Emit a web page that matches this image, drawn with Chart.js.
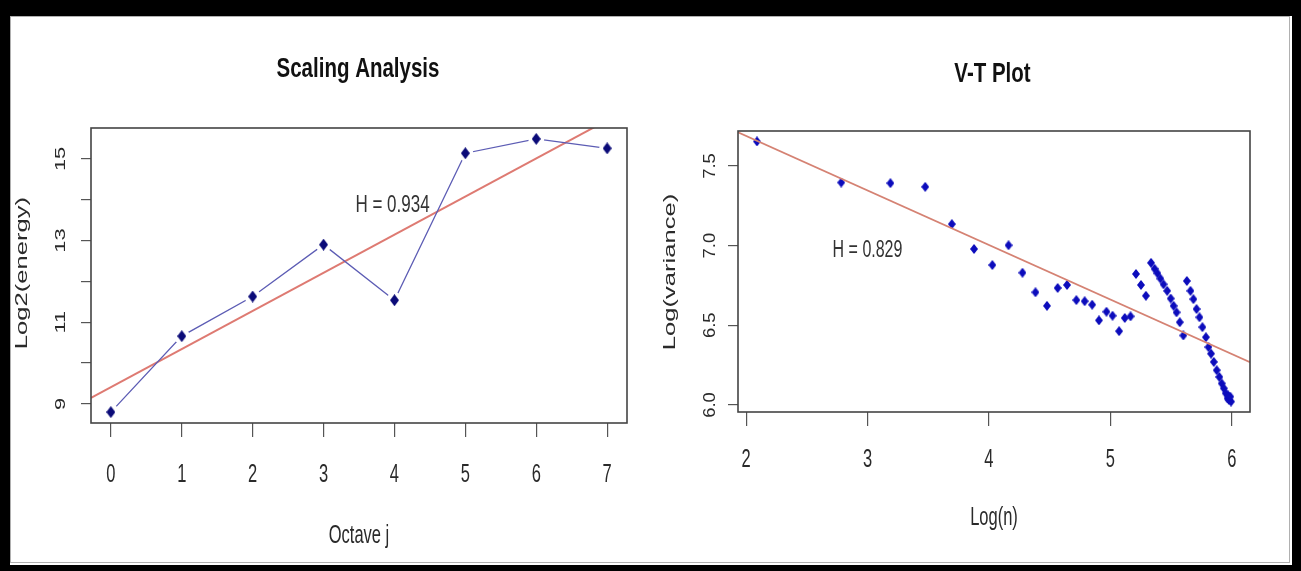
<!DOCTYPE html>
<html><head><meta charset="utf-8">
<script src="https://cdn.jsdelivr.net/npm/chart.js@4.4.0/dist/chart.umd.min.js"></script>
<style>
html,body{margin:0;padding:0;background:#fff;overflow:hidden;}
#frame{position:absolute;left:0;top:0;width:1301px;height:571px;box-sizing:border-box;border-style:solid;border-color:#000;border-width:16px 9px 6px 10px;background:#fff;}
#inner{position:absolute;left:10px;top:16px;width:1280px;height:547px;box-sizing:border-box;border:1px solid #b0b0b0;}
canvas{position:absolute;top:0;}
</style></head><body>
<div id="frame"></div>
<div id="inner"></div>
<canvas id="left" width="650" height="571" style="left:0px"></canvas>
<canvas id="right" width="651" height="571" style="left:650px"></canvas>
<script>
// ---------- data ----------
const octaves = [0, 1, 2, 3, 4, 5, 6, 7];
const log2Energy = [8.80, 10.66, 11.63, 12.90, 11.54, 15.14, 15.49, 15.26];

const logN = [2.089, 2.783, 3.188, 3.475, 3.694, 3.877, 4.028, 4.161, 4.276, 4.383,
  4.478, 4.566, 4.643, 4.720, 4.788, 4.850, 4.906, 4.968, 5.018, 5.072,
  5.119, 5.166, 5.211, 5.252, 5.293,
  5.335, 5.364, 5.388, 5.412, 5.438, 5.468, 5.497, 5.521, 5.545, 5.572, 5.601,
  5.630, 5.660, 5.684, 5.710, 5.734, 5.758, 5.787, 5.808, 5.829, 5.852,
  5.876, 5.897, 5.917, 5.935, 5.950, 5.965, 5.976, 5.994, 5.970, 5.988];
const logVariance = [7.654, 7.396, 7.392, 7.369, 7.135, 6.979, 6.878, 7.002, 6.830, 6.707,
  6.622, 6.734, 6.753, 6.658, 6.651, 6.629, 6.531, 6.585, 6.560, 6.463,
  6.546, 6.556, 6.822, 6.753, 6.685,
  6.892, 6.855, 6.826, 6.793, 6.757, 6.716, 6.668, 6.622, 6.581, 6.519, 6.436,
  6.778, 6.716, 6.664, 6.602, 6.550, 6.488, 6.425, 6.363, 6.322, 6.270,
  6.218, 6.176, 6.135, 6.104, 6.073, 6.041, 6.031, 6.021, 6.060, 6.052];

const hurst = [0.934, 0.829];
const hLabels = ['H = 0.934', 'H = 0.829'];
const titles = ['Scaling Analysis', 'V-T Plot'];
const xTitles = ['Octave j', 'Log(n)'];
const yTitles = ['Log2(energy)', 'Log(variance)'];

const leftXTicks = [0, 1, 2, 3, 4, 5, 6, 7];
const leftXTickLabels = ['0', '1', '2', '3', '4', '5', '6', '7'];
const leftYTicks = [9, 10, 11, 12, 13, 14, 15];
const leftYTickLabels = ['9', '', '11', '', '13', '', '15'];
const rightXTicks = [2, 3, 4, 5, 6];
const rightXTickLabels = ['2', '3', '4', '5', '6'];
const rightYTicks = [6.0, 6.5, 7.0, 7.5];
const rightYTickLabels = ['6.0', '6.5', '7.0', '7.5'];

// ---------- helpers ----------
const FONT = "'Liberation Sans', Arial, Helvetica, sans-serif";
const mean = a => a.reduce((s, v) => s + v, 0) / a.length;
function rlim(a) { const mn = Math.min(...a), mx = Math.max(...a), r = mx - mn; return [mn - 0.04 * r, mx + 0.04 * r]; }
function fitLine(xs, ys, slope, lim) {
  const b = mean(ys) - slope * mean(xs);
  return [{x: lim[0], y: b + slope * lim[0]}, {x: lim[1], y: b + slope * lim[1]}];
}
function diamond(w, h, color) {
  const c = document.createElement('canvas'); c.width = w; c.height = h;
  const g = c.getContext('2d'); g.fillStyle = color; g.beginPath();
  g.moveTo(w / 2, 0); g.lineTo(w, h / 2); g.lineTo(w / 2, h); g.lineTo(0, h / 2); g.closePath(); g.fill();
  return c;
}
function txt(ctx, s, x, y, size, S, opt) {
  opt = opt || {};
  ctx.save();
  ctx.translate(x, y);
  ctx.scale(1, S);
  if (opt.rot) ctx.rotate(-Math.PI / 2);
  ctx.font = (opt.bold ? 'bold ' : '') + size + 'px ' + FONT;
  ctx.fillStyle = opt.color || '#2a2a2a';
  ctx.textAlign = 'center';
  ctx.textBaseline = 'alphabetic';
  ctx.fillText(s, 0, 0);
  ctx.restore();
}

// ---------- left chart ----------
const lxLim = rlim(octaves), lyLim = rlim(log2Energy);
const lPts = octaves.map((x, i) => ({x, y: log2Energy[i]}));
const lFit = fitLine(octaves, log2Energy, hurst[0], lxLim);

function scaleCfg(lim, ticks, size, isX, tl) {
  return {
    type: 'linear', min: lim[0], max: lim[1],
    afterBuildTicks: s => { s.ticks = ticks.map(v => ({value: v})); },
    afterFit: s => { if (isX) s.height = size; else s.width = size; },
    ticks: {display: false},
    grid: {drawOnChartArea: false, drawTicks: true, tickLength: tl, color: '#555', lineWidth: 1.2},
    border: {display: false}
  };
}

function textPlugin(cfg) {
  return {
    id: 'txt' + cfg.id,
    afterDatasetsDraw(chart) {
      const ctx = chart.ctx, a = chart.chartArea;
      ctx.save();
      ctx.strokeStyle = '#444'; ctx.lineWidth = 1.6;
      ctx.strokeRect(a.left, a.top, a.right - a.left, a.bottom - a.top);
      ctx.restore();
    },
    afterDraw(chart) {
      const ctx = chart.ctx, sx = chart.scales.x, sy = chart.scales.y, o = cfg.off;
      txt(ctx, cfg.title, cfg.titlePos[0] - o, cfg.titlePos[1], 20.5, 1.35, {bold: true, color: '#111'});
      cfg.xt.forEach((v, i) => txt(ctx, cfg.xl[i], sx.getPixelForValue(v), cfg.xlBase, 16.5, 1.6));
      cfg.yt.forEach((v, i) => { if (cfg.yl[i]) txt(ctx, cfg.yl[i], cfg.ylBase - o, sy.getPixelForValue(v), cfg.ylSize, cfg.ylS, {rot: true}); });
      txt(ctx, cfg.yTitle, cfg.yTitlePos[0] - o, cfg.yTitlePos[1], 16, 1.6, {rot: true});
      txt(ctx, cfg.xTitle, cfg.xTitlePos[0] - o, cfg.xTitlePos[1], 16.5, 1.6);
      txt(ctx, cfg.h, cfg.hPos[0] - o, cfg.hPos[1], cfg.hSize, cfg.hS, {color: '#333'});
    }
  };
}

new Chart(document.getElementById('left'), {
  type: 'scatter',
  data: {datasets: [
    {data: lPts, pointStyle: diamond(9, 12, '#0b0b78'), pointRadius: 5, showLine: false, order: 1},
    {data: lPts, showLine: true, borderColor: '#5c5cb4', borderWidth: 1.3, pointStyle: 'circle', pointRadius: 8,
      pointBackgroundColor: '#ffffff', pointBorderWidth: 0, order: 2},
    {data: lFit, showLine: true, borderColor: '#de7a72', borderWidth: 2, pointRadius: 0, order: 3}
  ]},
  options: {
    responsive: false, animation: false, events: [],
    layout: {autoPadding: false, padding: {left: 0, right: 23, top: 128, bottom: 0}},
    plugins: {legend: {display: false}, tooltip: {enabled: false}},
    scales: {x: scaleCfg(lxLim, leftXTicks, 148, true, 14), y: scaleCfg(lyLim, leftYTicks, 91, false, 10)}
  },
  plugins: [textPlugin({id: 'L', off: 0, title: titles[0], titlePos: [358, 77], xt: leftXTicks, xl: leftXTickLabels, xlBase: 481.5,
    yt: leftYTicks, yl: leftYTickLabels, ylBase: 65, ylSize: 15, ylS: 1.45, yTitle: yTitles[0], yTitlePos: [26.5, 273],
    xTitle: xTitles[0], xTitlePos: [359, 543], h: hLabels[0], hPos: [392.5, 212], hSize: 17, hS: 1.4})]
});

// ---------- right chart ----------
const rxLim = rlim(logN), ryLim = rlim(logVariance);
const rPts = logN.map((x, i) => ({x, y: logVariance[i]}));
const rFit = fitLine(logN, logVariance, 2 * hurst[1] - 2, rxLim);

new Chart(document.getElementById('right'), {
  type: 'scatter',
  data: {datasets: [
    {data: rFit, showLine: true, borderColor: '#d58273', borderWidth: 1.8, pointRadius: 0, order: 0},
    {data: rPts, pointStyle: diamond(8, 10, '#0c0cbc'), pointRadius: 5, showLine: false, order: 1}
  ]},
  options: {
    responsive: false, animation: false, events: [],
    layout: {autoPadding: false, padding: {left: 0, right: 51, top: 131, bottom: 0}},
    plugins: {legend: {display: false}, tooltip: {enabled: false}},
    scales: {x: scaleCfg(rxLim, rightXTicks, 159, true, 14), y: scaleCfg(ryLim, rightYTicks, 88, false, 10)}
  },
  plugins: [textPlugin({id: 'R', off: 650, title: titles[1], titlePos: [992.5, 81.5], xt: rightXTicks, xl: rightXTickLabels, xlBase: 466.5,
    yt: rightYTicks, yl: rightYTickLabels, ylBase: 715, ylSize: 16, ylS: 1.15, yTitle: yTitles[1], yTitlePos: [675, 272],
    xTitle: xTitles[1], xTitlePos: [994, 525], h: hLabels[1], hPos: [867.5, 256.5], hSize: 16, hS: 1.55})]
});
</script>
</body></html>
